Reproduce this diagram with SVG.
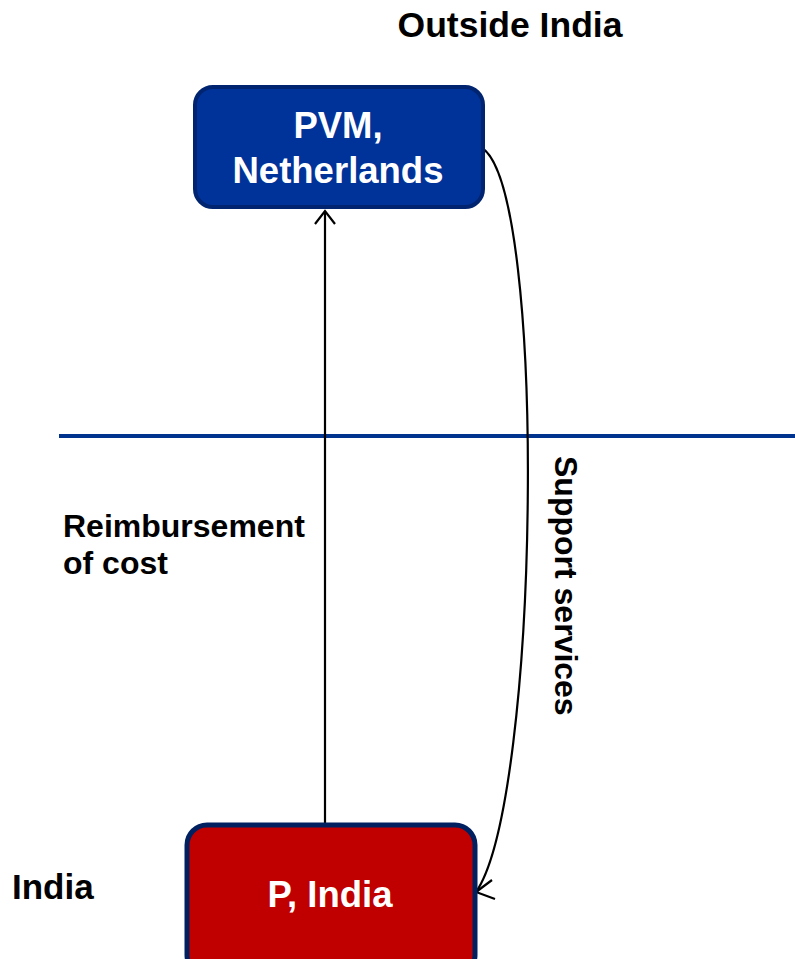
<svg xmlns="http://www.w3.org/2000/svg" width="795" height="959" viewBox="0 0 795 959">
<style>
text{font-family:"Liberation Sans",Arial,sans-serif;font-weight:bold}
.lbl{fill:#000;font-size:32px}
.hd{fill:#000;font-size:35px}
.nt{fill:#fff;font-size:36.5px;text-anchor:middle}
.conn{fill:none;stroke:#000;stroke-width:2.2}
</style>
<rect width="795" height="959" fill="#fff"/>
<line x1="59" y1="436" x2="795" y2="436" stroke="#00338D" stroke-width="4"/>
<text class="hd" x="510" y="37" text-anchor="middle" style="font-size:35.5px">Outside India</text>
<text class="hd" x="12" y="899">India</text>
<g id="connectors">
<line class="conn" x1="325" y1="823" x2="325" y2="212"/>
<polyline class="conn" points="315,224 325,211 335,224"/>
<path class="conn" d="M 482 148 C 548 190, 540 800, 476 892"/>
<polyline class="conn" points="492,880 476,892 495,899"/>
<text class="lbl" x="63" y="537">Reimbursement</text>
<text class="lbl" x="63" y="574">of cost</text>
<text class="lbl" transform="translate(555,456) rotate(90)">Support services</text>
</g>
<g id="pvm">
<rect x="195" y="87" width="288" height="120" rx="18" fill="#003399" stroke="#002470" stroke-width="4"/>
<text class="nt" x="338" y="138">PVM,</text>
<text class="nt" x="338" y="183">Netherlands</text>
</g>
<g id="pindia">
<rect x="187" y="825" width="288" height="150" rx="20" fill="#C00000" stroke="#002060" stroke-width="5"/>
<text class="nt" x="330" y="907">P, India</text>
</g>
</svg>
